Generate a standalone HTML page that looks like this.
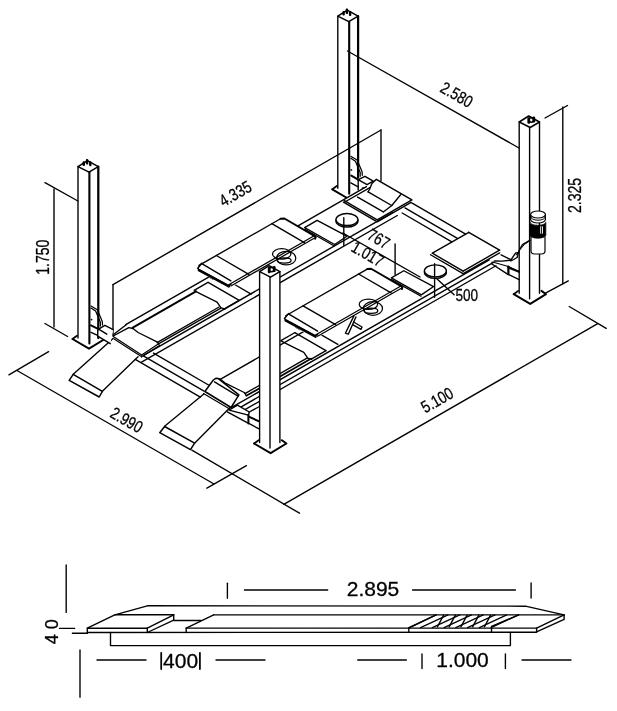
<!DOCTYPE html>
<html><head><meta charset="utf-8"><style>
html,body{margin:0;padding:0;background:#fff;}
svg{display:block;will-change:transform;}
text{font-family:"Liberation Sans",sans-serif;fill:#000;stroke:#000;stroke-width:0.3px;}
</style></head><body>
<svg opacity="0.999" width="617" height="711" viewBox="0 0 617 711" stroke="#000" fill="none" stroke-linecap="round" stroke-linejoin="round">
<line x1="78" y1="166.6" x2="78" y2="338" stroke-width="1.38"/>
<line x1="89.4" y1="172.1" x2="89.4" y2="343.5" stroke-width="2.12"/>
<line x1="98.3" y1="166.6" x2="98.3" y2="338" stroke-width="2.25"/>
<polyline points="78,166.6 89.0,172.1 98.3,166.6 87.5,160.6 78,166.6" stroke-width="1.5" fill="none"/>
<rect x="82.6" y="161.29999999999998" width="2.4" height="4.6" rx="1" fill="#000" stroke="none"/>
<rect x="85.9" y="159.0" width="2.4" height="5.4" rx="1" fill="#000" stroke="none"/>
<rect x="89.1" y="161.29999999999998" width="2.4" height="5.0" rx="1" fill="#000" stroke="none"/>
<polyline points="72.5,339 89.0,348.7 104.8,339 100.3,335.7" stroke-width="2.0" fill="none"/>
<polyline points="72.5,339 77,335.7" stroke-width="1.75" fill="none"/>
<line x1="337.8" y1="16.2" x2="337.8" y2="188.3" stroke-width="1.38"/>
<line x1="349.2" y1="21.7" x2="349.2" y2="193.8" stroke-width="2.12"/>
<line x1="358.1" y1="16.2" x2="358.1" y2="188.3" stroke-width="2.25"/>
<polyline points="337.8,16.2 348.8,21.7 358.1,16.2 347.3,10.2 337.8,16.2" stroke-width="1.5" fill="none"/>
<rect x="342.40000000000003" y="10.899999999999999" width="2.4" height="4.6" rx="1" fill="#000" stroke="none"/>
<rect x="345.7" y="8.6" width="2.4" height="5.4" rx="1" fill="#000" stroke="none"/>
<rect x="348.90000000000003" y="10.899999999999999" width="2.4" height="5.0" rx="1" fill="#000" stroke="none"/>
<polyline points="332.3,189.3 348.8,199.0 364.6,189.3 360.1,186.0" stroke-width="2.0" fill="none"/>
<polyline points="332.3,189.3 336.8,186.0" stroke-width="1.75" fill="none"/>
<line x1="519.2" y1="122" x2="519.2" y2="293.2" stroke-width="1.38"/>
<line x1="529.6" y1="127.5" x2="529.6" y2="298.7" stroke-width="1.38"/>
<line x1="539.5" y1="122" x2="539.5" y2="293.2" stroke-width="1.38"/>
<polyline points="519.2,122 530.2,127.5 539.5,122 528.7,116 519.2,122" stroke-width="1.5" fill="none"/>
<rect x="527.4000000000001" y="117.2" width="2.8" height="6.5" rx="1.2" fill="#000" stroke="none"/>
<rect x="532.4000000000001" y="116.5" width="2.8" height="6.0" rx="1.2" fill="#000" stroke="none"/>
<ellipse cx="531.2" cy="120" rx="2.6" ry="2.2" fill="none" stroke-width="1.6"/>
<polyline points="513.7,294.2 530.2,303.9 546.0,294.2 541.5,290.9" stroke-width="2.0" fill="none"/>
<polyline points="513.7,294.2 518.2,290.9" stroke-width="1.75" fill="none"/>
<line x1="54.0" y1="189" x2="54.0" y2="327" stroke-width="1.38"/>
<line x1="45" y1="182.7" x2="77.9" y2="201" stroke-width="1.38"/>
<line x1="44.9" y1="323.5" x2="67.6" y2="336.5" stroke-width="1.38"/>
<line x1="113" y1="284.6" x2="381" y2="130" stroke-width="1.38"/>
<line x1="113" y1="284.6" x2="113" y2="335.6" stroke-width="1.38"/>
<line x1="381" y1="130" x2="381" y2="181" stroke-width="1.38"/>
<line x1="347.5" y1="51" x2="519" y2="148" stroke-width="1.38"/>
<line x1="562.8" y1="107" x2="562.8" y2="283.7" stroke-width="1.38"/>
<line x1="545" y1="118" x2="567.5" y2="105.5" stroke-width="1.38"/>
<line x1="545.5" y1="293.2" x2="568.3" y2="280.9" stroke-width="1.38"/>
<line x1="8.9" y1="374.8" x2="48.6" y2="351.7" stroke-width="1.38"/>
<line x1="17" y1="370.5" x2="214" y2="484" stroke-width="1.38"/>
<line x1="206.9" y1="488.2" x2="246.4" y2="465.7" stroke-width="1.38"/>
<line x1="191.9" y1="450.2" x2="299.5" y2="513.2" stroke-width="1.38"/>
<line x1="283.8" y1="504.4" x2="597.7" y2="323.6" stroke-width="1.38"/>
<line x1="569.2" y1="306.5" x2="606.2" y2="328.3" stroke-width="1.38"/>
<polygon points="291.88,229.32 377.73,180.12 413.63,200.95 327.78,250.15" fill="#fff" stroke="none"/>
<polyline points="113.2,334.8 126.2,324.8" stroke-width="1.38" fill="none"/>
<line x1="125.74" y1="324.54" x2="209.07" y2="276.78" stroke-width="1.38"/>
<line x1="295.35" y1="227.33" x2="366.46" y2="186.58" stroke-width="1.38"/>
<line x1="132.76" y1="327.61" x2="195.98" y2="291.39" stroke-width="2.0"/>
<polyline points="113.2,336.0 128.8,327.6 133.0,328.5" stroke-width="1.38" fill="none"/>
<polyline points="113.25,336.5 141.69,355.1" stroke-width="1.25" fill="none"/>
<polyline points="112.9,338.3 141.69,356.8" stroke-width="1.25" fill="none"/>
<polyline points="141.69,355.1 158.6,343.71" stroke-width="1.25" fill="none"/>
<polyline points="141.69,356.8 159.56,345.56" stroke-width="1.25" fill="none"/>
<polyline points="133.0,328.5 138.1,332.5 157.5,342.2 159.0,344.2" stroke-width="1.38" fill="none"/>
<line x1="157.04" y1="342.6" x2="219.04" y2="307.07" stroke-width="1.25"/>
<line x1="157.56" y1="344.4" x2="220.86" y2="308.12" stroke-width="1.25"/>
<polyline points="194.7,290.9 201.5,294.3 217.1,302.1 221.0,307.9 224.9,308.9" stroke-width="1.38" fill="none"/>
<line x1="194.16" y1="290.33" x2="207.94" y2="282.43" stroke-width="1.38"/>
<line x1="208.12" y1="282.33" x2="239.25" y2="300.39" stroke-width="1.38"/>
<line x1="239.25" y1="300.39" x2="224.16" y2="309.03" stroke-width="1.38"/>
<line x1="209.07" y1="276.78" x2="213.41" y2="279.3" stroke-width="1.38"/>
<line x1="235.08" y1="284.77" x2="251.13" y2="294.08" stroke-width="1.38"/>
<polygon points="193.81,268.43 282.69,217.49 317.38,237.61 228.49,288.55" fill="#fff" stroke="none"/>
<polygon points="197.8,268.2 201.7,263.3 228.9,286.5 230.9,284.3" fill="#fff" stroke="none"/>
<polyline points="201.7,263.3 197.8,268.2 198.8,269.4 228.9,285.7 230.9,284.3" stroke-width="1.5" fill="none"/>
<polyline points="198.8,270.2 228.9,286.5" stroke-width="2.25" fill="none"/>
<polyline points="202.2,263.8 230.9,280.9" stroke-width="1.38" fill="none"/>
<line x1="216.35" y1="255.51" x2="248.87" y2="274.37" stroke-width="1.38"/>
<line x1="271.85" y1="223.7" x2="304.37" y2="242.57" stroke-width="1.38"/>
<line x1="199.01" y1="265.45" x2="280.52" y2="218.73" stroke-width="1.38"/>
<line x1="228.75" y1="284.7" x2="313.74" y2="236.0" stroke-width="1.25"/>
<line x1="230.92" y1="285.96" x2="315.9" y2="237.26" stroke-width="1.25"/>
<polyline points="280.52,218.73 284.43,218.5 314.78,236.1 315.64,237.1 315.21,238.85" stroke-width="1.88" fill="none"/>
<ellipse cx="281.69" cy="253.94" rx="9.2" ry="5.2" stroke-width="1.25" fill="none"/>
<ellipse cx="286.19" cy="258.14" rx="9.6" ry="6.8" stroke-width="1.25" fill="none"/>
<ellipse cx="284.29" cy="260.44" rx="6.8" ry="2.6" stroke-width="1.25" fill="none"/>
<polygon points="304.63,227.62 317.12,220.46 346.86,236.21 334.29,245.92" fill="#fff" stroke="none"/>
<polyline points="304.63,227.62 317.12,220.46 346.86,236.21 334.63,244.52 304.63,227.62" stroke-width="1.38" fill="none"/>
<polyline points="304.8,229.32 334.29,245.92" stroke-width="1.25" fill="none"/>
<ellipse cx="346.95" cy="221.06" rx="11" ry="6" stroke-width="1.38" fill="none"/>
<ellipse cx="346.95" cy="219.56" rx="11" ry="6" stroke-width="1.38" fill="#fff"/>
<polygon points="341.66,202.2 376.34,222.32 413.63,200.95 378.95,180.83" fill="#fff" stroke="none"/>
<line x1="344.35" y1="202.26" x2="372.53" y2="186.1" stroke-width="1.38"/>
<line x1="344.26" y1="200.7" x2="377.21" y2="219.82" stroke-width="1.38"/>
<line x1="343.39" y1="202.2" x2="375.91" y2="221.07" stroke-width="1.38"/>
<line x1="377.21" y1="219.82" x2="411.46" y2="200.19" stroke-width="1.38"/>
<line x1="377.21" y1="221.82" x2="411.03" y2="202.44" stroke-width="1.38"/>
<polygon points="375.8,179.7 371.9,183.6 369.5,189.5 368.0,191.9 357.3,197.2 383.6,211.8 391.8,205.5 400.6,194.8 409.8,198.2" fill="#fff" stroke="none"/>
<polyline points="375.8,179.7 371.9,183.6 369.5,189.5 368.0,191.9" stroke-width="1.38" fill="none"/>
<line x1="376.34" y1="179.32" x2="411.9" y2="199.94" stroke-width="1.5"/>
<line x1="368.11" y1="191.84" x2="391.69" y2="205.52" stroke-width="1.38"/>
<line x1="357.61" y1="197.05" x2="383.28" y2="211.94" stroke-width="1.38"/>
<polyline points="400.6,194.8 391.8,205.5 383.6,211.8" stroke-width="1.38" fill="none"/>
<line x1="143.6" y1="355.3" x2="392.47" y2="212.67" stroke-width="1.38"/>
<line x1="141.52" y1="362.1" x2="397.33" y2="215.49" stroke-width="1.38"/>
<line x1="220.26" y1="379.37" x2="303.59" y2="331.61" stroke-width="1.38"/>
<polyline points="219.72,378.8 224.82,382.8 244.22,392.5 245.72,394.5" stroke-width="1.38" fill="none"/>
<line x1="245.4" y1="393.36" x2="306.97" y2="358.07" stroke-width="1.38"/>
<line x1="246.27" y1="395.86" x2="311.31" y2="358.59" stroke-width="1.75"/>
<polyline points="281.42,341.2 288.22,344.6 303.82,352.4 307.72,358.2 311.62,359.2" stroke-width="1.38" fill="none"/>
<line x1="280.87" y1="340.63" x2="294.66" y2="332.73" stroke-width="1.38"/>
<line x1="294.83" y1="332.63" x2="325.96" y2="350.69" stroke-width="1.38"/>
<line x1="325.96" y1="350.69" x2="310.87" y2="359.34" stroke-width="1.38"/>
<line x1="295.79" y1="327.09" x2="300.12" y2="329.6" stroke-width="1.38"/>
<line x1="321.8" y1="335.08" x2="337.84" y2="344.38" stroke-width="1.38"/>
<polygon points="280.52,318.73 369.41,267.79 404.09,287.91 315.21,338.85" fill="#fff" stroke="none"/>
<polygon points="284.52,318.5 288.42,313.6 315.62,336.8 317.62,334.6" fill="#fff" stroke="none"/>
<polyline points="288.42,313.6 284.52,318.5 285.52,319.7 315.62,336.0 317.62,334.6" stroke-width="1.5" fill="none"/>
<polyline points="285.52,320.5 315.62,336.8" stroke-width="2.25" fill="none"/>
<polyline points="288.92,314.1 317.62,331.2" stroke-width="1.38" fill="none"/>
<line x1="303.07" y1="305.81" x2="335.59" y2="324.67" stroke-width="1.38"/>
<line x1="358.57" y1="274.0" x2="391.09" y2="292.87" stroke-width="1.38"/>
<line x1="285.73" y1="315.75" x2="367.24" y2="269.04" stroke-width="1.38"/>
<line x1="315.47" y1="335.0" x2="400.45" y2="286.3" stroke-width="1.25"/>
<line x1="317.64" y1="336.26" x2="402.62" y2="287.56" stroke-width="1.25"/>
<polyline points="367.24,269.04 371.14,268.8 401.49,286.41 402.36,287.41 401.93,289.16" stroke-width="1.88" fill="none"/>
<ellipse cx="368.41" cy="304.25" rx="9.2" ry="5.2" stroke-width="1.25" fill="none"/>
<ellipse cx="372.91" cy="308.45" rx="9.6" ry="6.8" stroke-width="1.25" fill="none"/>
<ellipse cx="371.01" cy="310.75" rx="6.8" ry="2.6" stroke-width="1.25" fill="none"/>
<polygon points="391.35,277.92 403.83,270.76 433.58,286.52 421.0,296.22" fill="#fff" stroke="none"/>
<polyline points="391.35,277.92 403.83,270.76 433.58,286.52 421.35,294.82 391.35,277.92" stroke-width="1.38" fill="none"/>
<polyline points="391.52,279.62 421.0,296.22" stroke-width="1.25" fill="none"/>
<ellipse cx="435.4" cy="272.37" rx="11" ry="6" stroke-width="1.38" fill="none"/>
<ellipse cx="435.4" cy="270.87" rx="11" ry="6" stroke-width="1.38" fill="#fff"/>
<polygon points="430.11,254.51 463.49,273.87 502.17,251.71 468.78,232.34" fill="#fff" stroke="none"/>
<line x1="432.36" y1="253.21" x2="468.78" y2="232.34" stroke-width="1.38"/>
<line x1="468.78" y1="232.34" x2="499.57" y2="250.2" stroke-width="1.5"/>
<line x1="432.36" y1="253.21" x2="463.15" y2="271.07" stroke-width="1.38"/>
<line x1="430.54" y1="254.76" x2="463.06" y2="273.62" stroke-width="1.38"/>
<line x1="463.15" y1="271.07" x2="499.57" y2="250.2" stroke-width="1.38"/>
<line x1="463.23" y1="273.72" x2="499.65" y2="252.85" stroke-width="1.38"/>
<line x1="232.57" y1="406.91" x2="489.25" y2="259.81" stroke-width="1.38"/>
<line x1="229.88" y1="413.35" x2="493.5" y2="262.28" stroke-width="1.38"/>
<line x1="244.54" y1="409.86" x2="496.01" y2="265.74" stroke-width="1.38"/>
<polygon points="73.2,374.3 69.2,380.3 99.2,397 102.4,391.3 138.0,356.8 112.5,339.0" fill="#fff" stroke="none"/>
<polyline points="73.2,374.3 69.2,380.3 99.2,397 102.4,391.3 73.2,374.3" stroke-width="1.5" fill="none"/>
<line x1="73.2" y1="374.3" x2="112.5" y2="339.0" stroke-width="1.38"/>
<line x1="102.4" y1="391.3" x2="138.0" y2="356.8" stroke-width="1.38"/>
<polygon points="164.6,426.5 159.7,432.7 190.5,449.7 194.6,443.2 229.8,407.8 203.8,394.0" fill="#fff" stroke="none"/>
<polyline points="164.6,426.5 159.7,432.7 190.5,449.7 194.6,443.2 164.6,426.5" stroke-width="1.5" fill="none"/>
<line x1="164.6" y1="426.2" x2="203.8" y2="394.0" stroke-width="1.38"/>
<line x1="194.6" y1="443.2" x2="229.8" y2="407.8" stroke-width="1.38"/>
<polyline points="204.9,391.5 213.3,380.0 215.8,378.3 218.3,378.6 238.9,394.9 231.1,407.5 204.9,391.5" stroke-width="1.5" fill="none"/>
<line x1="214.5" y1="381.8" x2="238.0" y2="396.2" stroke-width="1.38"/>
<line x1="203.5" y1="393.5" x2="230.5" y2="409.5" stroke-width="1.25"/>
<line x1="153.49" y1="353.04" x2="208.98" y2="385.23" stroke-width="1.38"/>
<line x1="143.34" y1="355.85" x2="204.04" y2="391.06" stroke-width="1.38"/>
<line x1="135.28" y1="359.47" x2="200.31" y2="397.2" stroke-width="1.38"/>
<polygon points="229,410.1 237.4,405 249.3,412.3 258.5,417 258.5,428.7 247.6,422.8 227.3,411.8" fill="#fff" stroke="none"/>
<polyline points="229,410.1 237.4,405.2 249.3,412.0 248.4,415.2 229,410.1" stroke-width="1.38" fill="none"/>
<line x1="248.4" y1="415.2" x2="248.4" y2="423.6" stroke-width="2.0"/>
<line x1="227.3" y1="411.8" x2="247.6" y2="422.8" stroke-width="1.38"/>
<line x1="249.3" y1="416.9" x2="258.5" y2="421.1" stroke-width="2.0"/>
<line x1="249.3" y1="423.6" x2="258.5" y2="428.7" stroke-width="1.38"/>
<line x1="249.3" y1="412.0" x2="258.5" y2="407.0" stroke-width="1.38"/>
<polygon points="98.6,329.1 104.9,325.3 113.2,329.7 110.3,343.7 97.7,336.1" fill="#fff" stroke="none"/>
<polyline points="98.6,329.1 104.9,325.3 113.2,329.7" stroke-width="1.38" fill="none"/>
<polyline points="98.6,329.1 97.7,329.7 97.7,336.1 110.3,343.7" stroke-width="1.38" fill="none"/>
<line x1="98.6" y1="329.1" x2="106.8" y2="334.2" stroke-width="1.38"/>
<line x1="91" y1="325.3" x2="98.6" y2="329.1" stroke-width="1.88"/>
<line x1="91" y1="332.3" x2="97.7" y2="335.4" stroke-width="1.38"/>
<polyline points="91,306 97.3,309.7 102.3,321.5 102.5,325" stroke-width="1.25" fill="none"/>
<polyline points="91,308 95.6,311 100.4,322.3 100.4,326" stroke-width="1.25" fill="none"/>
<circle cx="91.6" cy="319.6" r="0.9" fill="#000" stroke="none"/>
<polyline points="350.8,156.3 357.1,160.0 362.1,171.8 362.3,175.3" stroke-width="1.25" fill="none"/>
<polyline points="350.8,158.3 355.4,161.3 360.20000000000005,172.60000000000002 360.20000000000005,176.3" stroke-width="1.25" fill="none"/>
<circle cx="351.4" cy="169.90000000000003" r="0.9" fill="#000" stroke="none"/>
<line x1="411.72" y1="202.84" x2="465.23" y2="233.88" stroke-width="1.38"/>
<line x1="404.96" y1="207.92" x2="457.42" y2="238.35" stroke-width="1.38"/>
<line x1="402.19" y1="213.01" x2="451.79" y2="241.78" stroke-width="1.38"/>
<polyline points="491.9,262.1 494.3,262.5 508.4,266.5 519.1,271.8" stroke-width="1.25" fill="none"/>
<line x1="491.9" y1="264" x2="507.9" y2="274.3" stroke-width="1.38"/>
<line x1="508.4" y1="266.5" x2="508.4" y2="274.3" stroke-width="2.25"/>
<line x1="508.4" y1="267.5" x2="519.1" y2="271.8" stroke-width="2.0"/>
<line x1="508.4" y1="274.3" x2="519.1" y2="279.6" stroke-width="1.38"/>
<polyline points="529.3,240.7 522.5,244.6 519.6,249.5 518.2,253.3" stroke-width="1.38" fill="none"/>
<polyline points="518.2,252.8 515.7,252.9 512.8,257.2 510.9,260.2 502.1,261.1 494.3,261" stroke-width="1.38" fill="none"/>
<polyline points="518.2,253.3 517.2,257.5 510.9,261" stroke-width="1.38" fill="none"/>
<line x1="501.1" y1="254.8" x2="510.9" y2="259.7" stroke-width="1.38"/>
<polygon points="351.3,175.6 358.6,178.6 364.9,176.1 373.2,181 366.8,184.4 358.6,190 350.8,186" fill="#fff" stroke="none"/>
<polyline points="358.2,179.7 365,176.3 373.3,181.2 367,184.6 358.2,179.7" stroke-width="1.38" fill="none"/>
<line x1="351.3" y1="175.6" x2="358.2" y2="179.7" stroke-width="2.0"/>
<line x1="350.8" y1="182.9" x2="358.2" y2="186.8" stroke-width="1.38"/>
<line x1="358.2" y1="179.7" x2="358.2" y2="190" stroke-width="1.38"/>
<polyline points="353.8,316.1 345.4,333.2 348.3,334.2 355.9,317.0" stroke-width="1.38" fill="none"/>
<polyline points="353.6,322.0 362.0,327.0 361.0,329.4 352.6,324.6" stroke-width="1.38" fill="none"/>
<path d="M531,237 L531,250.8 Q531,254 534.4,254 L541.6,254 Q545,254 545,250.8 L545,237" fill="#fff" stroke-width="1.2"/>
<path d="M529.8,222.3 A8,3 0 0 0 545.8,222.3 L545.8,235.2 A8,3 0 0 1 529.8,235.2 Z" fill="#000" stroke="#000" stroke-width="0.8"/>
<path d="M530.6,214.5 L530.6,219.6 A7.4,3.4 0 0 0 545.4,219.6 L545.4,214.5" fill="#fff" stroke-width="1.2"/>
<path d="M530.6,216.8 A7.4,3.4 0 0 0 545.4,216.8" fill="none" stroke-width="1.0"/>
<ellipse cx="538" cy="214.5" rx="7.4" ry="3.5" fill="#fff" stroke-width="1.2"/>
<rect x="540.2" y="226.4" width="2.8" height="7.2" fill="#fff" stroke="none"/>
<line x1="541.6" y1="226.8" x2="541.6" y2="233.4" stroke-width="1.0"/>
<path d="M530.6,240.1 Q523.4,243.9 519.2,250.6 L516.3,254.9" stroke-width="1.0"/>
<rect x="259.6" y="271.6" width="20.3" height="171" fill="#fff" stroke="none"/>
<polygon points="259.6,271.6 269.9,266 279.9,271.6 269.9,277" fill="#fff" stroke="none"/>
<line x1="259.6" y1="271.6" x2="259.6" y2="442.5" stroke-width="1.38"/>
<line x1="270.0" y1="277.1" x2="270.0" y2="448.0" stroke-width="1.38"/>
<line x1="279.90000000000003" y1="271.6" x2="279.90000000000003" y2="442.5" stroke-width="1.38"/>
<polyline points="259.6,271.6 270.6,277.1 279.90000000000003,271.6 269.1,265.6 259.6,271.6" stroke-width="1.5" fill="none"/>
<rect x="267.8" y="266.8" width="2.8" height="6.5" rx="1.2" fill="#000" stroke="none"/>
<rect x="272.8" y="266.1" width="2.8" height="6.0" rx="1.2" fill="#000" stroke="none"/>
<ellipse cx="271.6" cy="269.6" rx="2.6" ry="2.2" fill="none" stroke-width="1.6"/>
<polyline points="254.10000000000002,443.5 270.6,453.2 286.40000000000003,443.5 281.90000000000003,440.2" stroke-width="2.0" fill="none"/>
<polyline points="254.10000000000002,443.5 258.6,440.2" stroke-width="1.75" fill="none"/>
<line x1="342.8" y1="233.0" x2="420" y2="277" stroke-width="1.38"/>
<line x1="395.1" y1="244" x2="395.1" y2="274.5" stroke-width="1.38"/>
<line x1="343.8" y1="217.8" x2="343.8" y2="245.4" stroke-width="1.38"/>
<line x1="434.6" y1="263.8" x2="434.6" y2="297.3" stroke-width="1.38"/>
<line x1="436" y1="277.9" x2="454.1" y2="294.7" stroke-width="1.38"/>
<text font-size="18.5" text-anchor="middle" transform="matrix(0,-0.76,1,0,42.4,257.2)" dy="0.36em">1.750</text>
<text font-size="18.5" text-anchor="middle" transform="matrix(0,-0.76,1,0,574.8,195.4)" dy="0.36em">2.325</text>
<text font-size="17.0" text-anchor="middle" transform="matrix(0.6928,-0.4,0.5,0.866,235.2,193.4)" dy="0.36em">4.335</text>
<text font-size="17.0" text-anchor="middle" transform="matrix(0.6928,-0.4,0.5,0.866,437,399.8)" dy="0.36em">5.100</text>
<text font-size="17.0" text-anchor="middle" transform="matrix(0.6928,0.4,-0.5,0.866,456.9,94.4)" dy="0.36em">2.580</text>
<text font-size="17.0" text-anchor="middle" transform="matrix(0.6928,0.4,-0.5,0.866,126.8,419.7)" dy="0.36em">2.990</text>
<text font-size="17.0" text-anchor="middle" transform="matrix(0.6928,0.4,-0.5,0.866,378.9,238.7)" dy="0.36em">767</text>
<text font-size="17.0" text-anchor="middle" transform="matrix(0.6928,0.4,-0.5,0.866,367.9,253.7)" dy="0.36em">1.017</text>
<text font-size="17" transform="matrix(0.8,0,0,1,455.4,300.6)">500</text>
<line x1="66.2" y1="565" x2="66.2" y2="612.4" stroke-width="1.38"/>
<line x1="80" y1="650" x2="80" y2="697.3" stroke-width="1.38"/>
<line x1="59.5" y1="628.4" x2="74.6" y2="628.4" stroke-width="1.38"/>
<line x1="72.4" y1="633.3" x2="87.3" y2="633.3" stroke-width="1.38"/>
<text font-size="18" text-anchor="middle" transform="matrix(0,-1,1,0,51.6,631.8)" dy="0.36em">4 0</text>
<polyline points="87.3,633.3 87.3,628.2 114.8,614.8 147.3,605.8 525.4,606.2 564.1,614.9 564.1,619.4 536.6,631.9 536.6,628.1" stroke-width="1.38" fill="none"/>
<line x1="87.3" y1="632.5" x2="536.6" y2="632.3" stroke-width="1.38"/>
<line x1="114.8" y1="614.8" x2="173.7" y2="614.8" stroke-width="1.38"/>
<line x1="173.7" y1="614.8" x2="173.7" y2="620.1" stroke-width="1.38"/>
<line x1="87.3" y1="628.2" x2="147.3" y2="628.2" stroke-width="1.38"/>
<line x1="147.3" y1="628.2" x2="147.3" y2="632.5" stroke-width="1.38"/>
<line x1="147.3" y1="628.2" x2="173.7" y2="614.8" stroke-width="1.38"/>
<line x1="147.3" y1="632.5" x2="173.7" y2="620.1" stroke-width="1.38"/>
<line x1="173.7" y1="620.5" x2="201" y2="620.5" stroke-width="1.38"/>
<line x1="186.2" y1="628.1" x2="213.7" y2="614.9" stroke-width="1.38"/>
<line x1="186.2" y1="628.1" x2="186.2" y2="632.5" stroke-width="1.38"/>
<line x1="213.7" y1="614.9" x2="564.1" y2="614.9" stroke-width="1.38"/>
<line x1="186.2" y1="628.1" x2="408.8" y2="628.1" stroke-width="1.38"/>
<line x1="408.8" y1="628.1" x2="408.8" y2="632.3" stroke-width="1.38"/>
<line x1="408.8" y1="628.1" x2="436" y2="614.9" stroke-width="1.38"/>
<line x1="408.8" y1="628.1" x2="536.6" y2="628.1" stroke-width="1.38"/>
<line x1="491.5" y1="628.1" x2="491.5" y2="632.3" stroke-width="1.38"/>
<line x1="491.5" y1="626.5" x2="518.7" y2="614.9" stroke-width="1.38"/>
<line x1="564.1" y1="614.9" x2="536.6" y2="628.1" stroke-width="1.38"/>
<polyline points="110.5,632.5 110.5,645.6 510.4,645.6 510.4,632.5" stroke-width="1.38" fill="none"/>
<line x1="408.8" y1="627.6" x2="436.3" y2="614.9" stroke-width="1.25"/>
<line x1="420.55" y1="627.6" x2="448.05" y2="614.9" stroke-width="1.25"/>
<line x1="432.3" y1="627.6" x2="459.8" y2="614.9" stroke-width="1.25"/>
<line x1="444.05" y1="627.6" x2="471.55" y2="614.9" stroke-width="1.25"/>
<line x1="455.8" y1="627.6" x2="483.3" y2="614.9" stroke-width="1.25"/>
<line x1="467.55" y1="627.6" x2="495.05" y2="614.9" stroke-width="1.25"/>
<line x1="479.3" y1="627.6" x2="506.8" y2="614.9" stroke-width="1.25"/>
<line x1="491.05" y1="627.6" x2="518.55" y2="614.9" stroke-width="1.25"/>
<line x1="437.4" y1="626.8" x2="443.6" y2="615.2" stroke-width="1.38"/>
<line x1="449.15" y1="626.8" x2="455.35" y2="615.2" stroke-width="1.38"/>
<line x1="460.9" y1="626.8" x2="467.1" y2="615.2" stroke-width="1.38"/>
<line x1="472.65" y1="626.8" x2="478.85" y2="615.2" stroke-width="1.38"/>
<line x1="484.4" y1="626.8" x2="490.6" y2="615.2" stroke-width="1.38"/>
<line x1="227.4" y1="583.2" x2="227.4" y2="598.2" stroke-width="1.38"/>
<line x1="244.4" y1="590" x2="327.7" y2="590" stroke-width="1.38"/>
<text font-size="21" text-anchor="middle" x="373.0" y="595.9">2.895</text>
<line x1="412.6" y1="590" x2="515.4" y2="590" stroke-width="1.38"/>
<line x1="531.1" y1="583" x2="531.1" y2="598" stroke-width="1.38"/>
<line x1="97" y1="660" x2="146" y2="660" stroke-width="1.38"/>
<text font-size="21" text-anchor="middle" x="180.6" y="667.6">400</text>
<line x1="161.2" y1="652.8" x2="161.2" y2="669" stroke-width="1.75"/>
<line x1="199.9" y1="652.8" x2="199.9" y2="669" stroke-width="1.75"/>
<line x1="216" y1="660" x2="265" y2="660" stroke-width="1.38"/>
<line x1="357.7" y1="660" x2="406.4" y2="660" stroke-width="1.38"/>
<line x1="422" y1="654" x2="422" y2="668.6" stroke-width="1.38"/>
<text font-size="21" text-anchor="middle" x="462.5" y="667.3">1.000</text>
<line x1="505.4" y1="654" x2="505.4" y2="668.6" stroke-width="1.38"/>
<line x1="522" y1="660" x2="571" y2="660" stroke-width="1.38"/>
</svg></body></html>
